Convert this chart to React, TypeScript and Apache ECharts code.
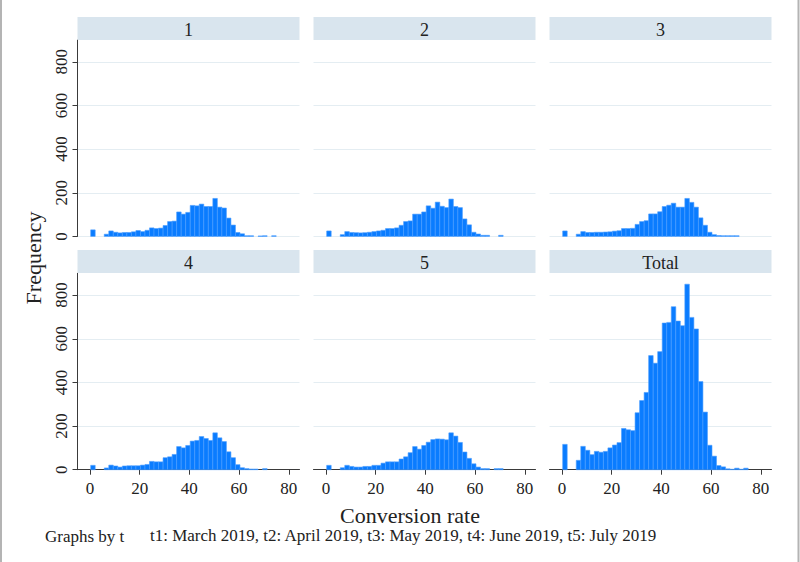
import React, { useEffect, useRef } from "react";
import * as echarts from "echarts";

// Histogram bins (conversion rate), common to all panels
const BIN_START = 0.3;
const BIN_WIDTH = 1.82;

const panelTitles = ["1", "2", "3", "4", "5", "Total"];

const freq1 = [30, 0, 0, 10, 25, 19, 16, 18, 18, 21, 27, 22, 28, 39, 36, 38, 50, 68, 70, 112, 102, 110, 142, 140, 148, 137, 137, 174, 134, 130, 84, 52, 18, 12, 3, 3, 0, 2, 3, 0, 3];
const freq2 = [25, 0, 0, 8, 22, 18, 17, 16, 17, 19, 22, 25, 28, 36, 36, 39, 51, 68, 71, 102, 102, 112, 140, 129, 157, 138, 132, 171, 137, 132, 80, 53, 19, 11, 5, 5, 0, 0, 5, 0, 0];
const freq3 = [25, 0, 0, 10, 22, 18, 18, 19, 19, 20, 21, 24, 26, 36, 36, 37, 55, 68, 72, 103, 103, 113, 137, 143, 152, 134, 134, 174, 156, 134, 85, 51, 19, 8, 4, 3, 3, 3, 3, 0, 0];
const freq4 = [20, 0, 0, 8, 21, 17, 12, 17, 18, 18, 18, 21, 24, 38, 36, 36, 55, 59, 70, 106, 100, 111, 131, 134, 152, 143, 134, 169, 146, 129, 82, 55, 23, 9, 5, 3, 3, 0, 5, 0, 0];
const freq5 = [20, 0, 0, 9, 20, 15, 12, 12, 15, 15, 20, 20, 30, 36, 36, 36, 49, 59, 78, 106, 94, 111, 126, 138, 141, 140, 137, 169, 154, 125, 81, 52, 27, 12, 5, 5, 0, 5, 5, 0, 0];
const freqTotal = [116, 0, 0, 43, 107, 89, 69, 84, 80, 84, 100, 113, 124, 189, 183, 179, 261, 317, 354, 523, 488, 541, 672, 675, 747, 681, 660, 850, 698, 645, 404, 264, 112, 62, 19, 13, 4, 2, 7, 2, 7];

const panelFreqs = [freq1, freq2, freq3, freq4, freq5, freqTotal];

const xTicks = [0, 20, 40, 60, 80];
const yTicks = [0, 200, 400, 600, 800];

const X_MIN = -5;
const X_MAX = 84.3;
const Y_MAX = 900;

const SERIF = "'Liberation Serif', 'DejaVu Serif', serif";
const BAR_FILL = "#0a7cff";
const BAR_EDGE = "#4c9dff";
const STRIP = "#d9e5ee";
const GRID_LINE = "#e4edf2";
const AXIS = "#3a3a3a";

const colLeft = [77.5, 313.5, 549.5];
const rowTop = [40, 273.3];
const stripTop = [17, 250];
const PANEL_W = 222;
const PANEL_H = 196.4;
const STRIP_H = 23;

export default function App() {
  const ref = useRef<HTMLDivElement>(null);

  useEffect(() => {
    document.body.style.margin = "0";
    if (!ref.current) return;
    const chart = echarts.init(ref.current, undefined, { renderer: "svg" });

    const grids: any[] = [];
    const xAxes: any[] = [];
    const yAxes: any[] = [];
    const series: any[] = [];
    const graphics: any[] = [];

    panelFreqs.forEach((freq, i) => {
      const row = Math.floor(i / 3);
      const col = i % 3;
      grids.push({
        left: colLeft[col],
        top: rowTop[row],
        width: PANEL_W,
        height: PANEL_H,
        containLabel: false,
      });
      const bottomRow = row === 1;
      const firstCol = col === 0;
      xAxes.push({
        type: "value",
        gridIndex: i,
        min: X_MIN,
        max: X_MAX,
        axisLine: { show: bottomRow, lineStyle: { color: AXIS, width: 1 } },
        axisTick: {
          show: bottomRow,
          customValues: xTicks,
          length: 5,
          lineStyle: { color: AXIS },
        },
        axisLabel: {
          show: bottomRow,
          customValues: xTicks,
          fontFamily: SERIF,
          fontSize: 17,
          color: "#222",
          margin: 10,
        },
        splitLine: { show: false },
      });
      yAxes.push({
        type: "value",
        gridIndex: i,
        min: 0,
        max: Y_MAX,
        axisLine: { show: firstCol, onZero: false, lineStyle: { color: AXIS, width: 1 } },
        axisTick: {
          show: firstCol,
          customValues: yTicks,
          length: 5,
          lineStyle: { color: AXIS },
        },
        axisLabel: {
          show: firstCol,
          customValues: yTicks,
          rotate: 90,
          fontFamily: SERIF,
          fontSize: 17,
          color: "#222",
          margin: 8,
        },
        splitLine: { show: true, lineStyle: { color: GRID_LINE, width: 1 } },
      });
      series.push({
        type: "custom",
        xAxisIndex: i,
        yAxisIndex: i,
        encode: { x: [0, 1], y: 2 },
        data: freq.map((c, k) => [
          BIN_START + k * BIN_WIDTH,
          BIN_START + (k + 1) * BIN_WIDTH,
          c,
        ]),
        renderItem: (params: any, api: any) => {
          const cnt = api.value(2);
          if (!cnt) return null;
          const p0 = api.coord([api.value(0), cnt]);
          const p1 = api.coord([api.value(1), 0]);
          return {
            type: "rect",
            shape: { x: p0[0], y: p0[1], width: p1[0] - p0[0], height: p1[1] - p0[1] },
            style: { fill: BAR_FILL, stroke: BAR_EDGE, lineWidth: 0.6 },
          };
        },
      });
      // strip header
      graphics.push({
        type: "rect",
        left: colLeft[col],
        top: stripTop[row],
        shape: { x: 0, y: 0, width: PANEL_W, height: STRIP_H },
        style: { fill: STRIP },
        z: 10,
      });
      graphics.push({
        type: "text",
        x: colLeft[col] + PANEL_W / 2,
        y: stripTop[row] + STRIP_H / 2 + 1,
        style: {
          text: panelTitles[i],
          font: `18px ${SERIF}`,
          fill: "#222",
          textAlign: "center",
          textVerticalAlign: "middle",
        },
        z: 11,
      });
    });

    graphics.push({
      type: "text",
      x: 33,
      y: 258,
      rotation: Math.PI / 2,
      style: {
        text: "Frequency",
        font: `22px ${SERIF}`,
        fill: "#222",
        textAlign: "center",
        textVerticalAlign: "middle",
      },
    });
    graphics.push({
      type: "text",
      x: 410,
      y: 515,
      style: {
        text: "Conversion rate",
        font: `22px ${SERIF}`,
        fill: "#222",
        textAlign: "center",
        textVerticalAlign: "middle",
      },
    });
    graphics.push({
      type: "text",
      x: 45,
      y: 536,
      style: {
        text: "Graphs by t",
        font: `17px ${SERIF}`,
        fill: "#222",
        textAlign: "left",
        textVerticalAlign: "middle",
      },
    });
    graphics.push({
      type: "text",
      x: 150,
      y: 535,
      style: {
        text: "t1: March 2019, t2: April 2019, t3: May 2019, t4: June 2019, t5: July 2019",
        font: `17px ${SERIF}`,
        fill: "#222",
        textAlign: "left",
        textVerticalAlign: "middle",
      },
    });
    // outer frame edges
    graphics.push({
      type: "line",
      shape: { x1: 1, y1: 0, x2: 1, y2: 562 },
      style: { stroke: "#b4b4b4", lineWidth: 2 },
    });
    graphics.push({
      type: "line",
      shape: { x1: 798.5, y1: 0, x2: 798.5, y2: 562 },
      style: { stroke: "#b4b4b4", lineWidth: 2 },
    });

    chart.setOption({
      animation: false,
      backgroundColor: "#ffffff",
      grid: grids,
      xAxis: xAxes,
      yAxis: yAxes,
      series,
      graphic: graphics,
    });

    return () => {
      chart.dispose();
    };
  }, []);

  return <div ref={ref} style={{ width: 800, height: 562 }} />;
}
